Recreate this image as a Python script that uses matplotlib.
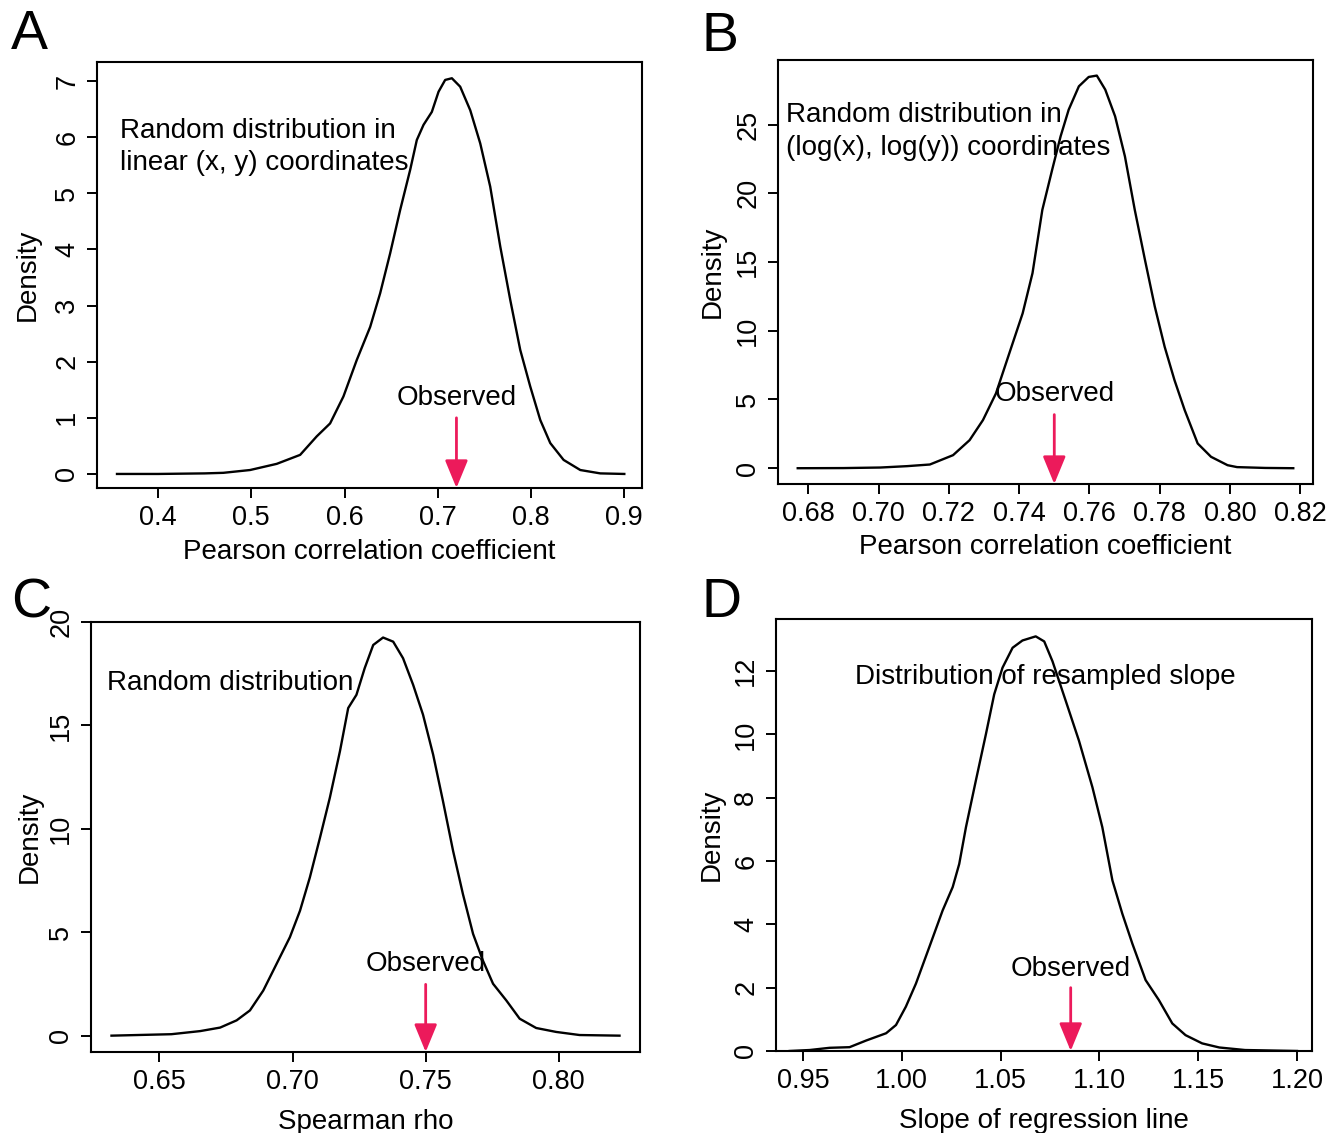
import matplotlib
matplotlib.use("Agg")
import matplotlib.pyplot as plt

plt.rcParams['font.family'] = ['Liberation Sans', 'DejaVu Sans']

# Panel A: Pearson r, linear coordinates
a_x = [0.356, 0.40, 0.45, 0.47, 0.4987, 0.5273, 0.5524, 0.5702, 0.5845, 0.5988, 0.6131,
       0.6275, 0.6382, 0.6489, 0.6596, 0.6704, 0.6775, 0.6847, 0.6936, 0.7008, 0.7079,
       0.7151, 0.7240, 0.7348, 0.7455, 0.7562, 0.7670, 0.7777, 0.7884, 0.7991, 0.8099,
       0.8206, 0.8349, 0.8528, 0.8742, 0.9]
a_y = [0.0, 0.0, 0.01, 0.02, 0.07, 0.18, 0.34, 0.67, 0.90, 1.38, 2.03,
       2.62, 3.22, 3.93, 4.70, 5.42, 5.95, 6.22, 6.45, 6.81, 7.02,
       7.05, 6.90, 6.48, 5.89, 5.12, 4.05, 3.10, 2.21, 1.56, 0.96,
       0.55, 0.25, 0.07, 0.01, 0.0]
a_obs = 0.720

# Panel B: Pearson r, log coordinates
b_x = [0.677, 0.69, 0.7005, 0.7081, 0.7146, 0.7212, 0.7259, 0.7297, 0.7334, 0.7372,
       0.7410, 0.7438, 0.7466, 0.7494, 0.7518, 0.7541, 0.7570, 0.7598, 0.7621, 0.7645,
       0.7673, 0.7701, 0.7729, 0.7758, 0.7786, 0.7814, 0.7842, 0.7871, 0.7908, 0.7946,
       0.7993, 0.802, 0.81, 0.818]
b_y = [0.0, 0.01, 0.05, 0.15, 0.27, 0.95, 2.04, 3.50, 5.44, 8.36,
       11.27, 14.19, 18.80, 21.72, 24.15, 26.09, 27.79, 28.47, 28.57, 27.55,
       25.61, 22.69, 18.80, 15.16, 11.76, 8.84, 6.41, 4.23, 1.80, 0.83,
       0.22, 0.08, 0.02, 0.0]
b_obs = 0.750

# Panel C: Spearman rho
c_x = [0.632, 0.6545, 0.6653, 0.6728, 0.679, 0.684, 0.689, 0.694, 0.699, 0.7028, 0.7065,
       0.7103, 0.714, 0.7178, 0.7209, 0.724, 0.7271, 0.7303, 0.734, 0.7378, 0.7415,
       0.7453, 0.749, 0.7528, 0.7565, 0.7603, 0.764, 0.7678, 0.7715, 0.7753, 0.7803,
       0.7853, 0.7915, 0.799, 0.8078, 0.8228]
c_y = [0.0, 0.07, 0.22, 0.39, 0.74, 1.22, 2.18, 3.47, 4.76, 6.04, 7.65,
       9.57, 11.50, 13.75, 15.84, 16.48, 17.77, 18.89, 19.25, 19.05, 18.25,
       16.96, 15.52, 13.59, 11.34, 8.93, 6.84, 4.92, 3.63, 2.51, 1.70,
       0.82, 0.37, 0.18, 0.03, 0.0]
c_obs = 0.750

# Panel D: resampled slope
d_x = [0.9433, 0.9534, 0.9635, 0.9736, 0.982, 0.9921, 0.9971, 1.0021, 1.0072, 1.014,
       1.0207, 1.0258, 1.0291, 1.0325, 1.0375, 1.0426, 1.0468, 1.0510, 1.0561, 1.0611,
       1.0678, 1.0721, 1.0763, 1.083, 1.0897, 1.0965, 1.1015, 1.1066, 1.1116, 1.1167,
       1.1234, 1.1301, 1.1369, 1.1436, 1.152, 1.1607, 1.1737, 1.2]
d_y = [0.0, 0.03, 0.10, 0.12, 0.33, 0.56, 0.82, 1.40, 2.13, 3.29,
       4.44, 5.18, 5.91, 7.07, 8.54, 10.01, 11.27, 12.11, 12.74, 12.97,
       13.10, 12.94, 12.31, 11.06, 9.80, 8.33, 7.07, 5.39, 4.34, 3.39,
       2.24, 1.61, 0.87, 0.50, 0.24, 0.11, 0.03, 0.0]
d_obs = 1.0855

panels = [
    dict(letter="A", rect=[0.0722, 0.5693, 0.4055, 0.376], x=a_x, y=a_y, obs=a_obs,
         xlim=(0.3346, 0.919), ylim=(-0.25, 7.34),
         xticks=[0.4, 0.5, 0.6, 0.7, 0.8, 0.9], xfmt="{:.1f}",
         yticks=[0, 1, 2, 3, 4, 5, 6, 7],
         xlabel="Pearson correlation coefficient",
         note="Random distribution in\nlinear (x, y) coordinates", note_xy=(0.359, 5.83), note_ha="left",
         arrow_top=1.0, obs_y=1.36, xpad=6, ypad=10, letter_xy=(0.008, 0.969)),
    dict(letter="B", rect=[0.5789, 0.5728, 0.398, 0.3742], x=b_x, y=b_y, obs=b_obs,
         xlim=(0.6714, 0.8236), ylim=(-1.15, 29.7),
         xticks=[0.68, 0.70, 0.72, 0.74, 0.76, 0.78, 0.80, 0.82], xfmt="{:.2f}",
         yticks=[0, 5, 10, 15, 20, 25],
         xlabel="Pearson correlation coefficient",
         note="Random distribution in\n(log(x), log(y)) coordinates", note_xy=(0.6736, 24.5), note_ha="left",
         arrow_top=3.9, obs_y=5.4, xpad=5, ypad=7, letter_xy=(0.522, 0.967)),
    dict(letter="C", rect=[0.0677, 0.0715, 0.4085, 0.3795], x=c_x, y=c_y, obs=c_obs,
         xlim=(0.6243, 0.8305), ylim=(-0.79, 20.0),
         xticks=[0.65, 0.70, 0.75, 0.80], xfmt="{:.2f}",
         yticks=[0, 5, 10, 15, 20],
         xlabel="Spearman rho",
         note="Random distribution", note_xy=(0.6304, 17.07), note_ha="left",
         arrow_top=2.48, obs_y=3.45, xpad=10, ypad=4, letter_xy=(0.008, 0.467)),
    dict(letter="D", rect=[0.5774, 0.0724, 0.3988, 0.3813], x=d_x, y=d_y, obs=d_obs,
         xlim=(0.9364, 1.2076), ylim=(0.0, 13.65),
         xticks=[0.95, 1.00, 1.05, 1.10, 1.15, 1.20], xfmt="{:.2f}",
         yticks=[0, 2, 4, 6, 8, 10, 12],
         xlabel="Slope of regression line",
         note="Distribution of resampled slope", note_xy=(1.0727, 11.83), note_ha="center",
         arrow_top=2.0, obs_y=2.6, xpad=10, ypad=6, letter_xy=(0.522, 0.468)),
]

fig = plt.figure(figsize=(13.44, 11.33), dpi=100)
red = "#ec1a5b"

for p in panels:
    ax = fig.add_axes(p["rect"])
    ax.plot(p["x"], p["y"], color="black", lw=1.7, solid_joinstyle="round")
    ax.set_xlim(*p["xlim"])
    ax.set_ylim(*p["ylim"])
    ax.set_xticks(p["xticks"])
    ax.set_xticklabels([p["xfmt"].format(t) for t in p["xticks"]])
    ax.set_yticks(p["yticks"])
    ax.set_yticklabels([str(t) for t in p["yticks"]], rotation=90, va="center")
    ax.tick_params(direction="out", length=7, width=1.4, labelsize=19.5, pad=5)
    for s in ax.spines.values():
        s.set_linewidth(1.5)
    ax.set_xlabel(p["xlabel"], fontsize=20, labelpad=p["xpad"])
    ax.set_ylabel("Density", fontsize=20, labelpad=p["ypad"])

    ax.text(p["note_xy"][0], p["note_xy"][1], p["note"], fontsize=20,
            ha=p["note_ha"], va="center", linespacing=1.32)
    ax.text(p["obs"], p["obs_y"], "Observed", fontsize=20, ha="center", va="center")
    ax.annotate("", xy=(p["obs"], p["ylim"][0]), xytext=(p["obs"], p["arrow_top"]),
                arrowprops=dict(arrowstyle="-|>,head_length=1.7,head_width=0.7",
                                color=red, lw=2, shrinkA=0, shrinkB=0))

    fx, fy = p["letter_xy"]
    fig.text(fx, fy, p["letter"], fontsize=40, ha="left", va="center")

fig.savefig("out.png", dpi=100)
